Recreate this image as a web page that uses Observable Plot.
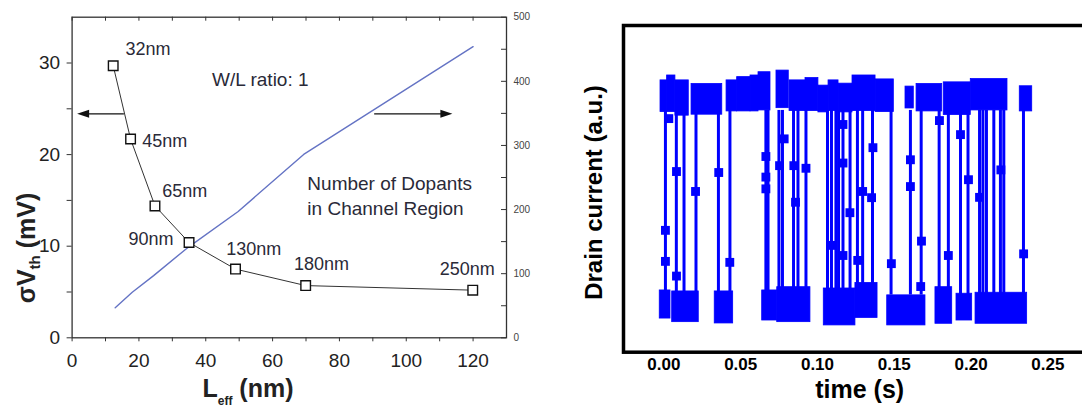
<!DOCTYPE html>
<html><head><meta charset="utf-8">
<script src="https://cdn.jsdelivr.net/npm/d3@7"></script>
<script src="https://cdn.jsdelivr.net/npm/@observablehq/plot@0.6"></script>
<style>
html,body{margin:0;padding:0;background:#fff;}
#fig{position:relative;width:1082px;height:407px;overflow:hidden;background:#fff;}
#left{position:absolute;left:0;top:0;width:540px;height:407px;}
#right{position:absolute;left:540px;top:0;width:560px;height:407px;}
svg{display:block;max-width:none !important;}
</style></head><body><div id="fig"><div id="left"></div><div id="right"></div></div>
<script>
// ---------- Left panel data ----------
const NODE_LABELS = ["32nm", "45nm", "65nm", "90nm", "130nm", "180nm", "250nm"];
const L_EFF = [12.3, 17.5, 24.8, 35.0, 48.9, 69.9, 119.9];          // nm
const SIGMA_VTH = [29.7, 21.7, 14.4, 10.4, 7.5, 5.7, 5.2];          // mV
const DOPANT_LEFF = [12.9, 18.0, 24.4, 34.2, 49.7, 69.3, 120];       // nm
const DOPANT_COUNT = [47, 71, 97, 139, 197, 286, 454];               // number of dopants
const LEFF_TICKS = [0, 20, 40, 60, 80, 100, 120];
const LEFF_MINOR = [10, 30, 50, 70, 90, 110];
const SIGMA_TICKS = [0, 10, 20, 30];
const SIGMA_MINOR = [5, 15, 25];
const DOPANT_TICKS = [0, 100, 200, 300, 400, 500];
const DOPANT_MINOR = [50, 150, 250, 350, 450];

// ---------- Right panel data (random telegraph noise) ----------
const TIME_TICKS = [0, 0.05, 0.10, 0.15, 0.20, 0.25];
const HIGH_LEVEL = 74, LOW_LEVEL = 17.5;  // a.u.
// [t start, t end, top, bottom]
const HIGH_PLATEAUS = [
  [-0.0022, 0.0021, 83.2, 73.5], [0.0021, 0.0075, 84.7, 73.5], [0.0075, 0.0162, 83.2, 72.4],
  [0.0180, 0.0380, 82.1, 72.7], [0.0408, 0.0477, 83.2, 73.7], [0.0477, 0.0564, 84.2, 73.7],
  [0.0564, 0.0616, 84.7, 73.7], [0.0616, 0.0694, 85.7, 74.0], [0.0733, 0.0813, 86.2, 74.7],
  [0.0818, 0.0922, 83.2, 73.8], [0.0922, 0.1006, 83.9, 73.8], [0.1006, 0.1072, 81.6, 73.4],
  [0.1072, 0.1137, 83.2, 73.8], [0.1137, 0.1228, 82.2, 73.4], [0.1228, 0.1378, 84.7, 73.8],
  [0.1378, 0.1497, 83.5, 73.5], [0.1573, 0.1627, 81.3, 74.6], [0.1645, 0.1812, 82.1, 73.7],
  [0.1822, 0.1998, 82.6, 72.6], [0.1998, 0.2237, 83.6, 74.0], [0.2317, 0.2398, 81.4, 73.7]
];
const LOW_PLATEAUS = [
  [-0.0027, 0.0043, 18.9, 10.3], [0.0054, 0.0227, 18.6, 9.2], [0.0331, 0.0451, 18.6, 8.8],
  [0.0640, 0.0738, 18.9, 9.7], [0.0738, 0.0954, 19.9, 9.2], [0.1041, 0.1247, 19.5, 8.2],
  [0.1247, 0.1391, 21.2, 10.5], [0.1454, 0.1703, 17.4, 8.2], [0.1768, 0.1877, 19.9, 8.7],
  [0.1905, 0.2007, 17.9, 9.7], [0.2029, 0.2365, 18.2, 8.7]
];
const SWITCH_TIMES = [
  0.0010, 0.0081, 0.0131, 0.0209, 0.0355, 0.0430, 0.0664, 0.0678, 0.0749, 0.0772, 0.0844,
  0.0873, 0.0925, 0.1065, 0.1091, 0.1120, 0.1137, 0.1166, 0.1212, 0.1260, 0.1294, 0.1358,
  0.1479, 0.1605, 0.1675, 0.1792, 0.1852, 0.1931, 0.1980, 0.2055, 0.2077, 0.2100, 0.2148,
  0.2191, 0.2213, 0.2341
];
// [t, current] samples caught mid-transition
const TRANSIT_POINTS = [
  [0.0032, 71.5], [0.0010, 37.3], [0.0010, 27.8], [0.0082, 55.3], [0.0082, 23.3], [0.0206, 49.2],
  [0.0357, 55.0], [0.0429, 27.5], [0.0664, 59.9], [0.0664, 53.6], [0.0664, 50.0], [0.0783, 65.3],
  [0.0753, 57.1], [0.0846, 57.1], [0.0857, 45.9], [0.0925, 56.3], [0.1098, 32.7], [0.1166, 69.7],
  [0.1166, 57.9], [0.1166, 29.6], [0.1211, 42.7], [0.1262, 28.1], [0.1294, 49.2], [0.1361, 62.6],
  [0.1352, 47.3], [0.1481, 27.1], [0.1605, 58.9], [0.1605, 50.7], [0.1677, 34.0], [0.1672, 20.1],
  [0.1794, 70.9], [0.1852, 29.6], [0.1931, 66.6], [0.1983, 52.8], [0.2055, 47.4], [0.2194, 55.8],
  [0.2342, 30.1]
];

// ---------- Build ----------
const FONT = "'Liberation Sans', Arial, Helvetica, sans-serif";
const Y2 = 35 / 500; // dopant count -> left axis units
const BLUE = "#0000ff";

const sigmaRows = L_EFF.map((x, i) => ({x, y: SIGMA_VTH[i], label: NODE_LABELS[i]}));
const dopantRows = DOPANT_LEFF.map((x, i) => ({x, y: DOPANT_COUNT[i] * Y2}));

// annotation layout (data coordinates)
const labelAt = {
  "32nm": [16.0, 31.45], "45nm": [21.0, 21.45], "65nm": [27.0, 16.0], "90nm": [16.9, 10.8],
  "130nm": [46.1, 9.7], "180nm": [66.4, 8.08], "250nm": [110.0, 7.53]
};
const arrows = [{x1: 15.5, x2: 3.3, dir: -1}, {x1: 90.4, x2: 112.0, dir: 1}];
const ARROW_Y = 24.45;
const arrowHead = dir => ({draw(ctx) { ctx.moveTo(dir * 6, 0); ctx.lineTo(-dir * 6, -4); ctx.lineTo(-dir * 6, 4); ctx.closePath(); }});

const PW = 506 - 71.6, PH = 337.3 - 16.7;
const left = Plot.plot({
  width: 540, height: 407,
  marginLeft: 71.6, marginRight: 34, marginTop: 16.7, marginBottom: 69.7,
  x: {domain: [0, 130]},
  y: {domain: [0, 35]},
  style: {fontFamily: FONT, fontSize: "19px", color: "#222", background: "white", overflow: "visible"},
  marks: [
    Plot.axisX({ticks: LEFF_TICKS, tickSize: 4, tickPadding: 12, label: null, stroke: "#333"}),
    Plot.axisX({ticks: LEFF_MINOR, tickSize: 4, tickFormat: () => "", label: null, stroke: "#333"}),
    Plot.tickX([...LEFF_TICKS, ...LEFF_MINOR], {x: d => d, insetBottom: PH - 4, stroke: "#333"}),
    Plot.axisY({ticks: SIGMA_TICKS, tickSize: 5, tickPadding: 7, label: null, stroke: "#333"}),
    Plot.axisY({ticks: SIGMA_MINOR, tickSize: 5, tickFormat: () => "", label: null, stroke: "#333"}),
    Plot.tickY([...DOPANT_TICKS, ...DOPANT_MINOR], {y: d => d * Y2, insetLeft: PW - 5, stroke: "#333"}),
    Plot.axisY({anchor: "right", ticks: DOPANT_TICKS.map(d => d * Y2), tickFormat: d => Math.round(d / Y2),
      tickSize: 0, tickPadding: 7, fontSize: 10, label: null, fill: "#444"}),
    Plot.frame({stroke: "#333", strokeWidth: 1.3}),
    Plot.line(dopantRows, {x: "x", y: "y", stroke: "#6473c4", strokeWidth: 1.4}),
    Plot.line(sigmaRows, {x: "x", y: "y", stroke: "#333", strokeWidth: 1}),
    Plot.dot(sigmaRows, {x: "x", y: "y", symbol: "square", r: 5.4, fill: "white", stroke: "#111", strokeWidth: 1.4}),
    Plot.text(sigmaRows, {x: d => labelAt[d.label][0], y: d => labelAt[d.label][1], text: "label",
      textAnchor: "start", fontSize: 18, fill: "#2a2a38"}),
    Plot.link(arrows, {x1: "x1", x2: "x2", y1: ARROW_Y, y2: ARROW_Y, stroke: "#111", strokeWidth: 1.4}),
    Plot.dot(arrows.filter(a => a.dir < 0), {x: "x2", y: ARROW_Y, symbol: arrowHead(-1), fill: "#111", stroke: "none"}),
    Plot.dot(arrows.filter(a => a.dir > 0), {x: "x2", y: ARROW_Y, symbol: arrowHead(1), fill: "#111", stroke: "none"}),
    Plot.text(["W/L ratio: 1"], {x: 41.9, y: 28.2, text: d => d, textAnchor: "start", fontSize: 19, fill: "#2a2a38"}),
    Plot.text(["Number of Dopants", "in Channel Region"], {x: 70.4, y: (d, i) => i === 0 ? 16.75 : 14.1,
      text: d => d, textAnchor: "start", fontSize: 19, fill: "#2a2a38"})
  ]
});

const ls = d3.select(left);
const yt = ls.append("text").attr("transform", "translate(34.6,248) rotate(-90)")
  .attr("font-family", FONT).attr("font-weight", "bold").attr("font-size", 25).attr("fill", "#222");
yt.append("tspan").text("σV");
yt.append("tspan").attr("font-size", 15).attr("dy", 5).text("th");
yt.append("tspan").attr("dy", -5).text(" (mV)");
const xt = ls.append("text").attr("x", 248).attr("y", 397)
  .attr("font-family", FONT).attr("font-weight", "bold").attr("font-size", 25).attr("fill", "#222");
xt.append("tspan").text("L");
xt.append("tspan").attr("font-size", 12).attr("dy", 8).text("eff");
xt.append("tspan").attr("dy", -8).text(" (nm)");
document.getElementById("left").appendChild(left);

const right = Plot.plot({
  width: 560, height: 407,
  marginLeft: 83, marginRight: 5, marginTop: 25, marginBottom: 55.3,
  x: {domain: [-0.0263, 0.281]},
  y: {domain: [0, 100], axis: null},
  style: {fontFamily: FONT, fontSize: "17px", color: "#000", background: "white", overflow: "visible"},
  marks: [
    Plot.ruleX(SWITCH_TIMES, {x: d => d, y1: LOW_LEVEL, y2: HIGH_LEVEL, stroke: BLUE, strokeWidth: 3}),
    Plot.rect(HIGH_PLATEAUS, {x1: d => d[0], x2: d => d[1], y1: d => d[3], y2: d => d[2], fill: BLUE, inset: 0, stroke: BLUE, strokeWidth: 0.8}),
    Plot.rect(LOW_PLATEAUS, {x1: d => d[0], x2: d => d[1], y1: d => d[3], y2: d => d[2], fill: BLUE, inset: 0, stroke: BLUE, strokeWidth: 0.8}),
    Plot.dot(TRANSIT_POINTS, {x: d => d[0], y: d => d[1], symbol: "square", r: 5, fill: BLUE}),
    Plot.axisX({ticks: TIME_TICKS, tickFormat: d3.format(".2f"), tickSize: 0, tickPadding: 6,
      fontWeight: "bold", fontSize: 17, label: null}),
    Plot.frame({stroke: "#000", strokeWidth: 3.5})
  ]
});
const rs = d3.select(right);
rs.append("text").attr("x", 319.7).attr("y", 398).attr("text-anchor", "middle")
  .attr("font-family", FONT).attr("font-weight", "bold").attr("font-size", 25).attr("fill", "#000").text("time (s)");
rs.append("text").attr("transform", "translate(62,192.5) rotate(-90)").attr("text-anchor", "middle")
  .attr("font-family", FONT).attr("font-weight", "bold").attr("font-size", 24).attr("fill", "#000").text("Drain current (a.u.)");
document.getElementById("right").appendChild(right);
</script></body></html>
